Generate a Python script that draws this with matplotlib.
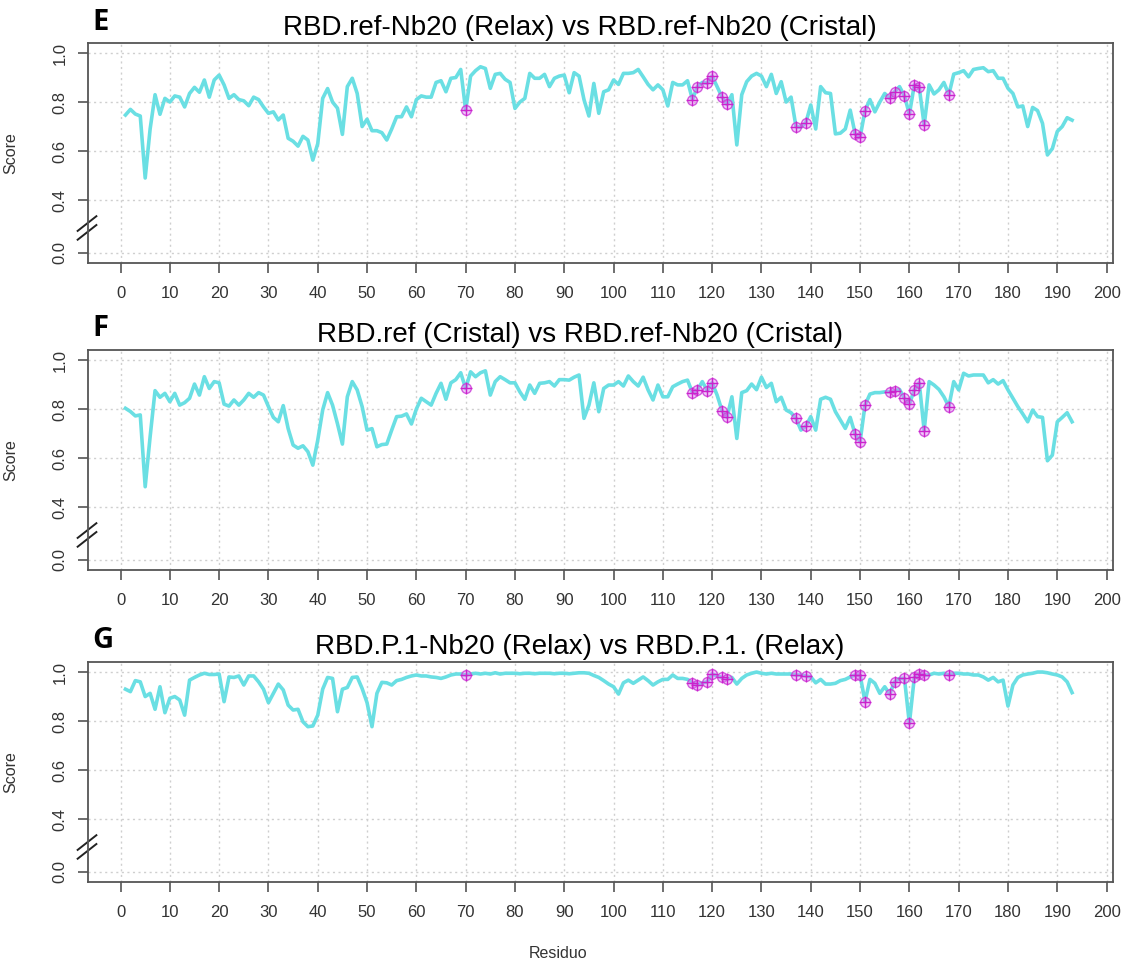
import numpy as np
import matplotlib
matplotlib.use("Agg")
import matplotlib.pyplot as plt
from matplotlib.lines import Line2D

plt.rcParams['font.family'] = ['Liberation Sans', 'DejaVu Sans']

residues = list(range(1, 194))

score_E = [0.747, 0.77, 0.751, 0.743, 0.49, 0.69, 0.83, 0.75, 0.815, 0.80,
           0.825, 0.82, 0.78, 0.835, 0.86, 0.84, 0.89, 0.82, 0.89, 0.91,
           0.87, 0.815, 0.83, 0.81, 0.805, 0.785, 0.82, 0.81, 0.78, 0.754,
           0.76, 0.727, 0.747, 0.652, 0.64, 0.62, 0.66, 0.645, 0.563, 0.63,
           0.815, 0.855, 0.80, 0.775, 0.668, 0.863, 0.897, 0.835, 0.70, 0.73,
           0.683, 0.683, 0.675, 0.645, 0.69, 0.74, 0.74, 0.78, 0.74, 0.81,
           0.825, 0.82, 0.82, 0.88, 0.887, 0.842, 0.897, 0.90, 0.933, 0.767,
           0.906, 0.928, 0.944, 0.937, 0.856, 0.913, 0.917, 0.893, 0.88, 0.774,
           0.80, 0.815, 0.917, 0.897, 0.897, 0.913, 0.863, 0.897, 0.906, 0.91,
           0.838, 0.92, 0.906, 0.81, 0.743, 0.876, 0.754, 0.842, 0.85, 0.89,
           0.872, 0.917, 0.917, 0.92, 0.933, 0.903, 0.872, 0.85, 0.87, 0.85,
           0.784, 0.88, 0.87, 0.87, 0.887, 0.81, 0.863, 0.88, 0.877, 0.906,
           0.863, 0.82, 0.79, 0.83, 0.625, 0.83, 0.883, 0.906, 0.917, 0.906,
           0.863, 0.913, 0.835, 0.883, 0.80, 0.82, 0.70, 0.697, 0.716, 0.788,
           0.69, 0.863, 0.838, 0.835, 0.67, 0.673, 0.69, 0.767, 0.67, 0.656,
           0.765, 0.81, 0.76, 0.80, 0.835, 0.815, 0.842, 0.863, 0.825, 0.75,
           0.87, 0.86, 0.706, 0.87, 0.833, 0.85, 0.88, 0.83, 0.914, 0.92,
           0.928, 0.903, 0.933, 0.937, 0.94, 0.924, 0.928, 0.897, 0.897, 0.856,
           0.835, 0.78, 0.784, 0.70, 0.778, 0.765, 0.713, 0.584, 0.61, 0.68,
           0.70, 0.736, 0.726]

score_F = [0.803, 0.79, 0.772, 0.776, 0.483, 0.687, 0.875, 0.848, 0.864, 0.83,
           0.864, 0.816, 0.826, 0.844, 0.902, 0.857, 0.932, 0.884, 0.912, 0.907,
           0.82, 0.812, 0.837, 0.816, 0.837, 0.864, 0.848, 0.867, 0.857, 0.81,
           0.766, 0.748, 0.814, 0.72, 0.653, 0.64, 0.65, 0.626, 0.571, 0.673,
           0.796, 0.867, 0.816, 0.74, 0.657, 0.85, 0.912, 0.878, 0.81, 0.714,
           0.72, 0.646, 0.655, 0.657, 0.714, 0.769, 0.771, 0.78, 0.739, 0.80,
           0.844, 0.83, 0.816, 0.864, 0.905, 0.84, 0.907, 0.92, 0.948, 0.884,
           0.952, 0.932, 0.948, 0.956, 0.857, 0.912, 0.932, 0.92, 0.907, 0.907,
           0.87, 0.84, 0.898, 0.864, 0.905, 0.907, 0.912, 0.894, 0.92, 0.92,
           0.918, 0.93, 0.939, 0.762, 0.816, 0.907, 0.789, 0.884, 0.898, 0.898,
           0.912, 0.894, 0.935, 0.912, 0.894, 0.93, 0.878, 0.837, 0.898, 0.85,
           0.85, 0.891, 0.902, 0.912, 0.918, 0.867, 0.878, 0.912, 0.875, 0.907,
           0.857, 0.793, 0.766, 0.85, 0.68, 0.867, 0.875, 0.902, 0.879, 0.93,
           0.888, 0.905, 0.83, 0.848, 0.796, 0.785, 0.762, 0.714, 0.73, 0.769,
           0.714, 0.84, 0.848, 0.84, 0.789, 0.755, 0.721, 0.766, 0.697, 0.667,
           0.816, 0.861, 0.867, 0.867, 0.87, 0.87, 0.875, 0.88, 0.844, 0.82,
           0.878, 0.907, 0.712, 0.912, 0.898, 0.88, 0.85, 0.81, 0.912, 0.878,
           0.946, 0.935, 0.939, 0.939, 0.939, 0.907, 0.92, 0.902, 0.916, 0.878,
           0.844, 0.81, 0.78, 0.748, 0.796, 0.769, 0.766, 0.589, 0.612, 0.748,
           0.766, 0.785, 0.748]

score_G = [0.93, 0.92, 0.965, 0.96, 0.90, 0.913, 0.848, 0.94, 0.834, 0.893,
           0.90, 0.886, 0.824, 0.967, 0.978, 0.988, 0.995, 0.99, 0.99, 0.992,
           0.879, 0.98, 0.978, 0.984, 0.947, 0.984, 0.984, 0.96, 0.93, 0.875,
           0.913, 0.951, 0.927, 0.865, 0.845, 0.848, 0.797, 0.777, 0.78, 0.824,
           0.93, 0.978, 0.974, 0.838, 0.93, 0.937, 0.978, 0.98, 0.933, 0.875,
           0.777, 0.913, 0.958, 0.956, 0.947, 0.965, 0.97, 0.978, 0.984, 0.988,
           0.984, 0.984, 0.98, 0.978, 0.974, 0.98, 0.988, 0.992, 0.992, 0.988,
           0.992, 0.995, 0.992, 0.995, 0.992, 0.997, 0.992, 0.995, 0.995, 0.995,
           0.993, 0.995, 0.995, 0.993, 0.995, 0.995, 0.995, 0.993, 0.995, 0.995,
           0.993, 0.995, 0.997, 0.997, 0.995, 0.986, 0.978, 0.965, 0.951, 0.94,
           0.91, 0.956, 0.967, 0.954, 0.967, 0.98, 0.965, 0.947, 0.96, 0.97,
           0.97, 0.988, 0.974, 0.974, 0.97, 0.956, 0.947, 0.956, 0.96, 0.992,
           0.984, 0.978, 0.97, 0.978, 0.951, 0.974, 0.988, 0.995, 1.0, 0.995,
           0.992, 0.995, 0.992, 0.992, 0.992, 0.992, 0.988, 0.988, 0.984, 0.98,
           0.956, 0.97, 0.951, 0.951, 0.954, 0.965, 0.97, 0.98, 0.988, 0.988,
           0.879, 0.97, 0.954, 0.913, 0.94, 0.91, 0.96, 0.974, 0.974, 0.79,
           0.978, 0.992, 0.988, 0.988, 0.995, 0.992, 0.995, 0.988, 0.995, 0.995,
           0.992, 0.992, 0.988, 0.988, 0.98, 0.967, 0.978, 0.96, 0.967, 0.861,
           0.947, 0.978, 0.988, 0.992, 0.995, 1.0, 1.0, 0.997, 0.992, 0.988,
           0.98, 0.96, 0.916]

interface_residues = [70, 116, 117, 119, 120, 122, 123, 137, 139, 149, 150,
                      151, 156, 157, 159, 160, 161, 162, 163, 168]

panel_letters = ["E", "F", "G"]
titles = ["RBD.ref-Nb20 (Relax) vs RBD.ref-Nb20 (Cristal)",
          "RBD.ref (Cristal) vs RBD.ref-Nb20 (Cristal)",
          "RBD.P.1-Nb20 (Relax) vs RBD.P.1. (Relax)"]
series = [score_E, score_F, score_G]

xticks = list(range(0, 201, 10))
ytick_pos = [0.184, 0.4, 0.6, 0.8, 1.0]
ytick_lab = ["0.0", "0.4", "0.6", "0.8", "1.0"]

W, H = 1133, 961
fig = plt.figure(figsize=(W / 100, H / 100), dpi=100)

line_col = "#6ADFE3"
axis_col = "#555555"
txt_col = "#333333"

tops = [43, 350, 662]
box_h = 220
left_px, right_px = 88, 1113

for i, (letter, title, ys) in enumerate(zip(panel_letters, titles, series)):
    top = tops[i]
    ax = fig.add_axes([left_px / W, 1 - (top + box_h) / H,
                       (right_px - left_px) / W, box_h / H])
    ax.set_xlim(-6.6, 201.3)
    ax.set_ylim(0.143, 1.041)
    for x in xticks:
        ax.axvline(x, color="#cfcfcf", lw=1.0, ls=(0, (1.5, 2.5)), zorder=0)
    for y in ytick_pos:
        ax.axhline(y, color="#cfcfcf", lw=1.0, ls=(0, (1.5, 2.5)), zorder=0)
    ax.plot(residues, ys, color=line_col, lw=2.6, solid_joinstyle="round",
            zorder=2)
    mx = interface_residues
    my = [ys[r - 1] for r in mx]
    ax.plot(mx, my, ls="none", marker="o", ms=7, mfc=(0.87, 0.5, 0.95, 0.45),
            mec=(0.8, 0.25, 0.85, 0.85), mew=1.0, zorder=3)
    ax.plot(mx, my, ls="none", marker="+", ms=9, mec="#cc22cc", mew=1.0,
            zorder=4)
    ax.set_xticks(xticks)
    ax.set_xticklabels([str(x) for x in xticks])
    ax.set_yticks(ytick_pos)
    ax.set_yticklabels(ytick_lab, rotation=90, va="center")
    ax.tick_params(axis="both", direction="out", length=7.5, width=1.2,
                   color=axis_col, labelcolor=txt_col, labelsize=12)
    ax.tick_params(axis="x", pad=9)
    ax.tick_params(axis="y", pad=7)
    for s in ax.spines.values():
        s.set_color(axis_col)
        s.set_linewidth(1.3)
    # axis break marks
    yb = 0.286
    for dy in (-0.018, 0.018):
        ax.add_line(Line2D([-8.7, -4.9], [yb + dy - 0.03, yb + dy + 0.03],
                           color="#222222", lw=1.4, clip_on=False))
    ax.set_ylabel("Score", fontsize=11.5, color=txt_col)
    ax.yaxis.set_label_coords((18 - left_px) / (right_px - left_px), 0.5)
    fig.text(580 / W, 1 - (top - 15) / H, title, ha="center", va="center",
             fontsize=20, color="black")
    fig.text(92 / W, 1 - (top - 21) / H, letter, ha="left", va="center",
             fontsize=21, fontweight="bold", family="Open Sans", color="black")

fig.text(558 / W, 1 - 953 / H, "Residuo", ha="center", va="center",
         fontsize=11.5, color=txt_col)

fig.savefig("out.png", dpi=100)
